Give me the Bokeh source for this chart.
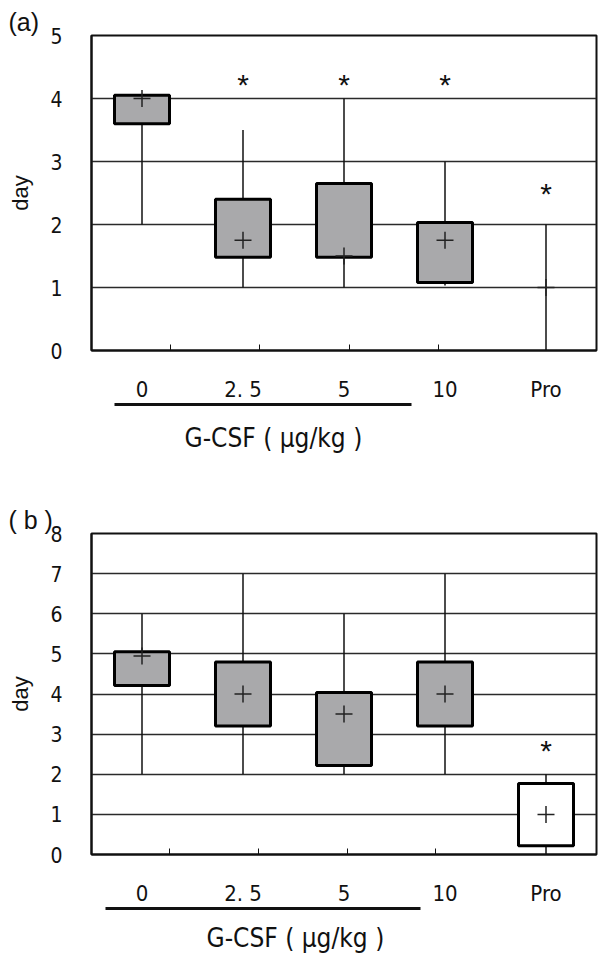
import math
from bokeh.plotting import figure
from bokeh.layouts import column
from bokeh.models import Range1d, FixedTicker, LinearAxis, Title
from bokeh.core.properties import value
from bokeh.embed import file_html
from bokeh.resources import INLINE

nan = math.nan

# ---------------- data ----------------
categories = ["0", "2. 5", "5", "10", "Pro"]
x_pos = [0.5, 1.5, 2.5, 3.5, 4.5]

# panel (a)
a_min = [2.0, 1.0, 1.0, 1.03, 0.0]
a_q1 = [3.6, 1.48, 1.48, 1.08, nan]
a_q3 = [4.05, 2.4, 2.65, 2.03, nan]
a_max = [4.0, 3.5, 4.0, 3.0, 2.0]
a_mean = [4.0, 1.75, 1.5, 1.75, 1.0]
a_star_idx = [1, 2, 3, 4]
a_star_y = [4.35, 4.35, 4.35, 2.62]
a_yticks = [0, 1, 2, 3, 4, 5]
a_minor_x = [0.78, 1.66, 2.55, 3.44]
a_gcsf_span = (0.23, 3.17)

# panel (b)
b_min = [2.0, 2.0, 2.0, 2.0, 0.0]
b_q1 = [4.21, 3.2, 2.22, 3.2, 0.22]
b_q3 = [5.05, 4.8, 4.04, 4.8, 1.77]
b_max = [6.0, 7.0, 6.0, 7.0, 2.0]
b_mean = [4.95, 4.0, 3.5, 4.0, 1.0]
b_star_idx = [4]
b_star_y = [2.78]
b_yticks = [0, 1, 2, 3, 4, 5, 6, 7, 8]
b_minor_x = [0.77, 1.65, 2.53, 3.41]
b_gcsf_span = (0.14, 3.26)

GRAY = "#a9a9ab"
b_fill = [GRAY, GRAY, GRAY, GRAY, "white"]
a_fill = [GRAY] * 5

TICK_FONT = "DejaVu Sans Condensed, Roboto, sans-serif"
PLAIN_FONT = "Liberation Sans"
AXIS_TITLE = "G-CSF ( μg/kg )"


def make_panel(tag, ymax, yticks, minor_x, vmin, q1, q3, vmax, vmean,
               fills, star_idx, star_y, height, border_top, border_bottom,
               gcsf_span, title_offset, title_standoff):
    p = figure(width=598, height=height, x_range=Range1d(0, 5), y_range=Range1d(0, ymax),
               output_backend="svg", toolbar_location=None,
               min_border_left=91, min_border_right=2,
               min_border_top=border_top, min_border_bottom=border_bottom)
    p.background_fill_color = "white"
    p.border_fill_color = "white"
    p.outline_line_color = "#111111"
    p.outline_line_width = 2

    # panel tag, e.g. "(a)"
    p.title = Title(text=tag, align="left", offset=-83, standoff=0,
                    text_font=PLAIN_FONT, text_font_size="25px",
                    text_font_style="normal", text_color="#111111")

    # grid
    p.xgrid.visible = False
    p.ygrid.ticker = FixedTicker(ticks=yticks)
    p.ygrid.grid_line_color = "#2a2a2a"
    p.ygrid.grid_line_width = 1.4

    # y axis
    ya = p.yaxis[0]
    ya.ticker = FixedTicker(ticks=yticks)
    ya.major_tick_in = 0
    ya.major_tick_out = 0
    ya.minor_tick_in = 0
    ya.minor_tick_out = 0
    ya.axis_line_width = 2
    ya.axis_line_color = "#111111"
    ya.major_label_standoff = 29
    ya.major_label_text_font = TICK_FONT
    ya.major_label_text_font_size = "21px"
    ya.major_label_text_color = "#111111"
    ya.axis_label = "day"
    ya.axis_label_text_font = PLAIN_FONT
    ya.axis_label_text_font_size = "22px"
    ya.axis_label_text_font_style = "normal"
    ya.axis_label_text_color = "#111111"
    ya.axis_label_standoff = 14

    # x axis with the category labels
    xa = p.xaxis[0]
    xa.ticker = FixedTicker(ticks=x_pos, minor_ticks=minor_x)
    xa.major_label_overrides = {x: c for x, c in zip(x_pos, categories)}
    xa.major_tick_in = 0
    xa.major_tick_out = 0
    xa.minor_tick_in = 6
    xa.minor_tick_out = 0
    xa.minor_tick_line_color = "#111111"
    xa.axis_line_width = 2
    xa.axis_line_color = "#111111"
    xa.major_label_standoff = 26
    xa.major_label_text_font = TICK_FONT
    xa.major_label_text_font_size = "22px"
    xa.major_label_text_color = "#111111"

    # underline grouping the G-CSF doses: a bounded, tick-less axis
    ua = LinearAxis(bounds=gcsf_span, ticker=FixedTicker(ticks=[]),
                    major_tick_in=0, major_tick_out=0, minor_tick_in=0, minor_tick_out=0,
                    axis_line_width=3, axis_line_color="#111111",
                    major_label_text_font_size="0px", major_label_standoff=0)
    p.add_layout(ua, "below")

    # group title under the underline
    p.add_layout(Title(text=AXIS_TITLE, align="left", offset=title_offset,
                       standoff=title_standoff,
                       text_font=TICK_FONT, text_font_size="26px",
                       text_font_style="normal", text_color="#111111"), "below")

    # whiskers
    p.segment(x0=x_pos, y0=vmin, x1=x_pos, y1=vmax, line_color="#111111", line_width=1.5)
    # boxes
    p.vbar(x=x_pos, width=0.545, bottom=q1, top=q3, fill_color=fills,
           line_color="black", line_width=3)
    # means
    p.scatter(x=x_pos, y=vmean, marker="cross", size=17, line_color="#222222",
              line_width=1.5)
    # significance stars
    p.text(x=[x_pos[i] for i in star_idx], y=star_y, text=["*"] * len(star_idx),
           text_align="center", text_baseline="middle", text_font=value(PLAIN_FONT),
           text_font_size="30px", text_color="#111111", y_offset=8)
    return p


pa = make_panel("(a)", 5, a_yticks, a_minor_x,
                a_min, a_q1, a_q3, a_max, a_mean, a_fill, a_star_idx, a_star_y,
                height=478, border_top=35, border_bottom=128,
                gcsf_span=a_gcsf_span, title_offset=93, title_standoff=33)

pb = make_panel("( b )", 8, b_yticks, b_minor_x,
                b_min, b_q1, b_q3, b_max, b_mean, b_fill, b_star_idx, b_star_y,
                height=486, border_top=55, border_bottom=106,
                gcsf_span=b_gcsf_span, title_offset=115, title_standoff=24)

layout = column(pa, pb, spacing=0)
open("out.html", "w").write(file_html(layout, INLINE))
